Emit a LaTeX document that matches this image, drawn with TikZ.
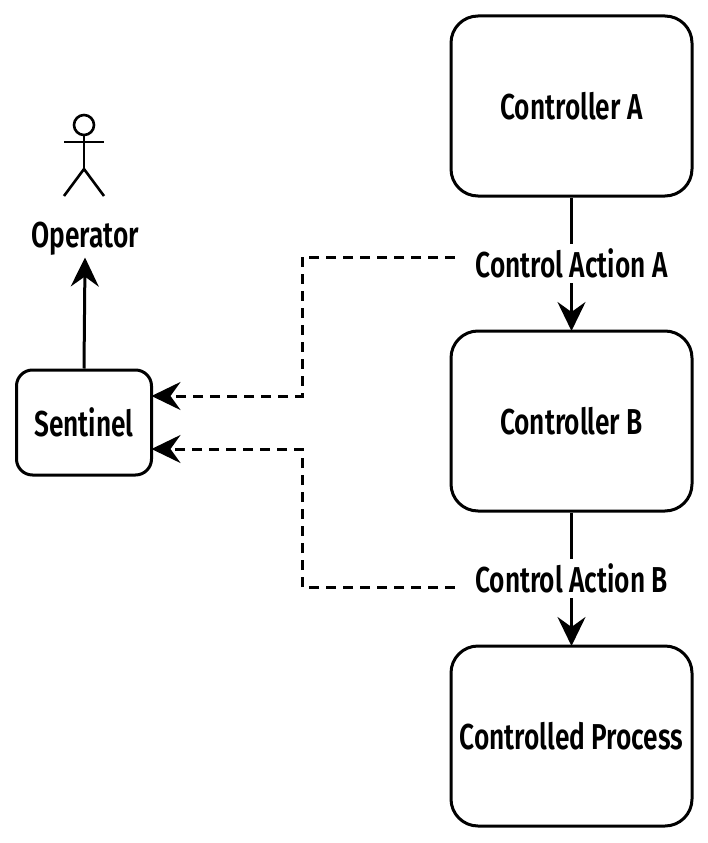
\documentclass[tikz,border=0pt]{standalone}
\usepackage{fontspec}
\setmainfont[FakeStretch=0.73]{Fira Sans SemiBold}
\usetikzlibrary{arrows.meta,positioning}
\tikzstyle{every node}+=[font=\fontsize{36}{40}\selectfont]
\tikzstyle{every path}+=[line width=3pt]
\tikzset{
  ctrlbox/.style={rectangle,draw,rounded corners=27pt,minimum width=241pt,minimum height=180pt,inner sep=0pt},
  senbox/.style={rectangle,draw,rounded corners=16pt,minimum width=135pt,minimum height=105pt,inner sep=0pt},
  actlabel/.style={fill=white,inner sep=0pt,minimum height=39pt,minimum width=196pt},
  tip/.style={-{Stealth[length=29pt,width=28pt,inset=10pt]},shorten >=-1.5pt},
  feed/.style={tip,dash pattern=on 10pt off 7pt}
}
\begin{document}
\begin{tikzpicture}[x=1pt,y=-1pt]
\useasboundingbox (0,0) rectangle (708,843);

\node[ctrlbox] (ctrlA) at (571.5,106) {Controller A};
\node[ctrlbox,below=132pt of ctrlA] (ctrlB) {Controller B};
\node[ctrlbox,below=132pt of ctrlB] (proc) {Controlled Process};
\node[senbox] (sentinel) at (84,422.5) {Sentinel};
\node (operator) at (85,239) {Operator};

% stick figure
\node[circle,draw,line width=2.6pt,minimum size=20pt,inner sep=0pt] (head) at (84,125) {};
\coordinate (hip) at (84,169);
\coordinate (armL) at (64,142);
\coordinate (armR) at (104,142);
\coordinate (legL) at (64,196);
\coordinate (legR) at (104,196);
\draw[line width=2.6pt] (head) -- (hip);
\draw[line width=2.6pt] (armL) -- (armR);
\draw[line width=2.6pt] (legL) -- (hip) -- (legR);

\draw[tip] (ctrlA) -- node[actlabel] (actA) {Control Action A} (ctrlB);
\draw[tip] (ctrlB) -- node[actlabel] (actB) {Control Action B} (proc);
\draw[tip,shorten >=-3pt] (sentinel.north) -- (operator.south);

\coordinate (startA) at (455,257);
\coordinate (startB) at (455,587);
\coordinate (portA) at (sentinel.east |- 0,396);
\coordinate (portB) at (sentinel.east |- 0,449);
\draw[feed] (startA) -- (302,257) -- (302,396) -- (portA);
\draw[feed] (startB) -- (302,587) -- (302,449) -- (portB);
\end{tikzpicture}
\end{document}
